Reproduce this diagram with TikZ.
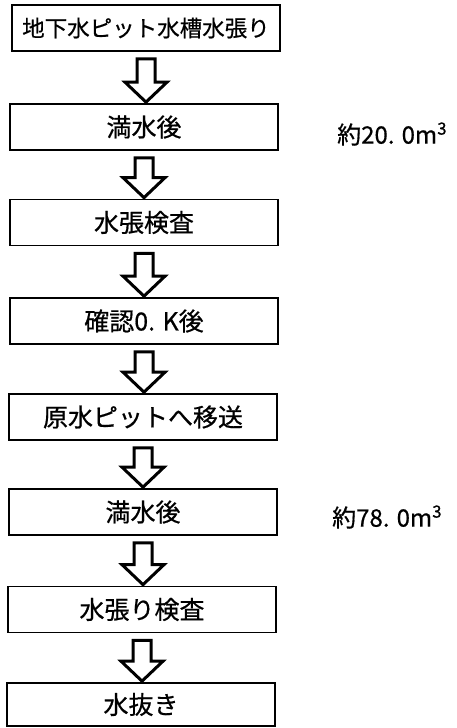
\documentclass[tikz,border=0pt]{standalone}
\usepackage{fontspec}
\setmainfont[FakeBold=0.6]{Noto Sans CJK JP}
\usetikzlibrary{calc}
\tikzset{
  stepbox/.style={draw=black, line width=1.7pt, minimum width=268pt, minimum height=46pt, inner sep=0pt, font=\fontsize{25}{28}\selectfont},
  blockarrow/.style={draw=black, fill=white, line width=3pt, line join=miter},
  vol/.style={anchor=west, inner sep=0pt, font=\fontsize{24}{26}\selectfont}
}
\newcommand\blockarr[2]{%
  \draw[blockarrow] let \p1=(#1.south), \p2=(#2.north) in
    (\x1-9pt,\y1-7pt) -- (\x1-9pt,\y2+21pt) -- (\x1-21pt,\y2+21pt) -- (\x1,\y2+1pt)
    -- (\x1+21pt,\y2+21pt) -- (\x1+9pt,\y2+21pt) -- (\x1+9pt,\y1-7pt) -- cycle;}
\begin{document}
\begin{tikzpicture}[x=1pt,y=-1pt]
\useasboundingbox (0,0) rectangle (456,728);
\node[stepbox, font=\fontsize{22.5}{24}\selectfont] (b1) at (146,28) {地下水ピット水槽水張り};
\node[stepbox] (b2) at (144,127) {満水後};
\node[stepbox] (b3) at (144,222.5) {水張検査};
\node[stepbox] (b4) at (144,321) {確認0. K後};
\node[stepbox] (b5) at (143,417) {原水ピットへ移送};
\node[stepbox] (b6) at (143,512) {満水後};
\node[stepbox] (b7) at (142,609.5) {水張り検査};
\node[stepbox, minimum height=43pt] (b8) at (141,704.5) {水抜き};
\blockarr{b1}{b2}
\blockarr{b2}{b3}
\blockarr{b3}{b4}
\blockarr{b4}{b5}
\blockarr{b5}{b6}
\blockarr{b6}{b7}
\blockarr{b7}{b8}
\node[vol] (v1) at (337,134) {約20. 0m\textsuperscript{3}};
\node[vol] (v2) at (332,517) {約78. 0m\textsuperscript{3}};
\end{tikzpicture}
\end{document}
